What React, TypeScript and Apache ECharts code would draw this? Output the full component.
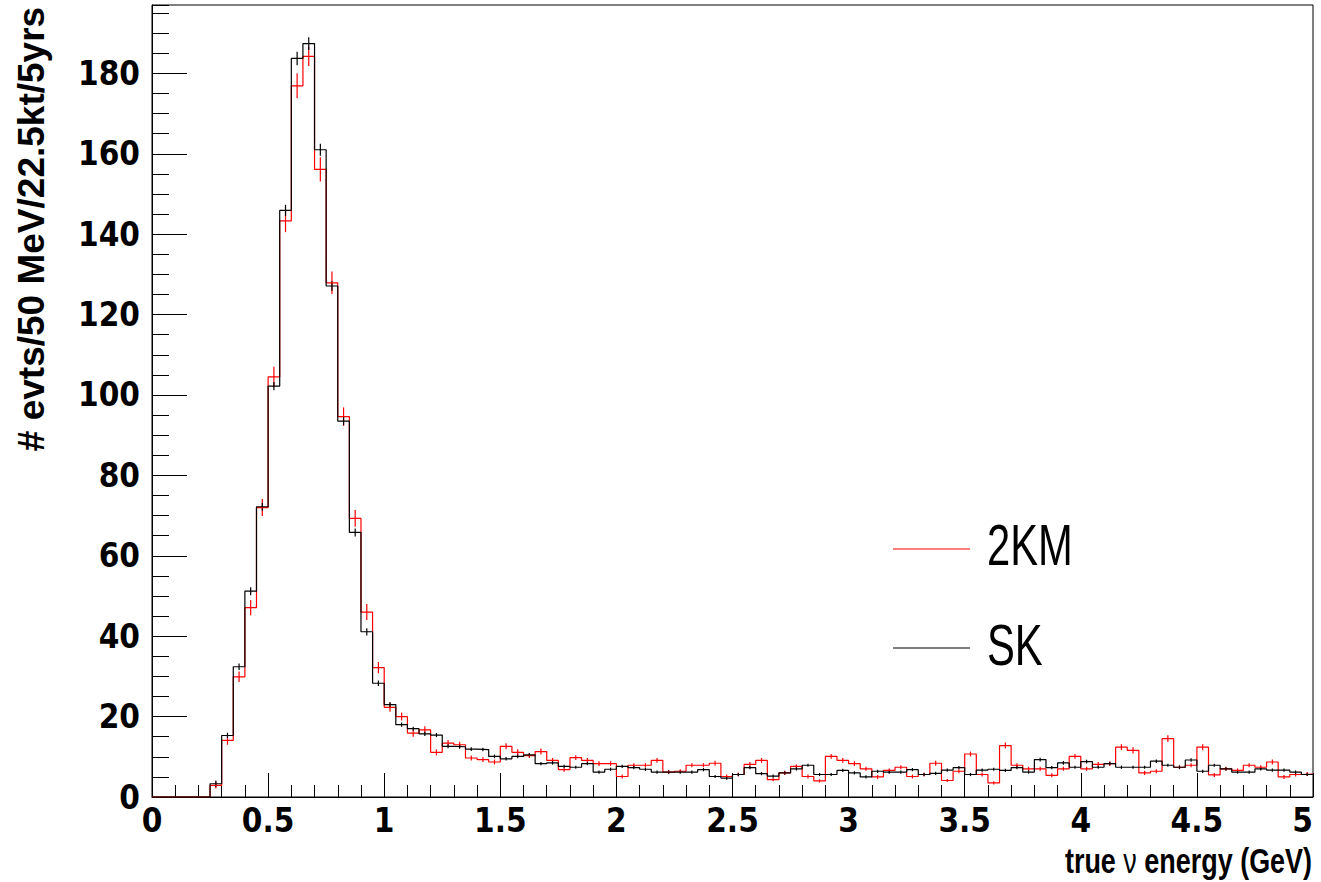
import React, { useEffect, useRef } from "react";
import * as echarts from "echarts";

// ---- data ----
const BIN_WIDTH = 0.05;
const N_BINS = 100;
const binLowEdges: number[] = Array.from({ length: N_BINS }, (_, i) => Math.round(i * BIN_WIDTH * 100) / 100);

const xTickValues = [0, 0.5, 1, 1.5, 2, 2.5, 3, 3.5, 4, 4.5, 5];
const yTickValues = [0, 20, 40, 60, 80, 100, 120, 140, 160, 180];

const seriesNames = ["2KM", "SK"];

const km2Values = [
  0, 0, 0, 0, 0, 2.9, 14.1, 29.9, 47.1, 72.0,
  104.5, 143.3, 176.9, 184.2, 156.1, 127.9, 94.6, 69.3, 46.0, 32.2,
  22.3, 20.0, 15.9, 16.7, 11.1, 13.4, 13.0, 9.7, 9.3, 8.7,
  12.6, 11.1, 10.3, 11.3, 9.1, 6.8, 9.8, 9.1, 8.3, 8.3,
  5.1, 7.9, 7.9, 9.1, 6.2, 6.4, 7.9, 7.9, 8.4, 5.1,
  5.6, 8.1, 9.1, 4.3, 6.0, 7.6, 5.1, 4.0, 10.1, 9.1,
  8.3, 7.0, 5.0, 6.6, 7.4, 5.1, 5.6, 8.4, 4.1, 6.4,
  10.7, 5.6, 3.5, 12.8, 7.9, 7.0, 7.0, 5.4, 7.0, 10.1,
  7.0, 8.1, 8.3, 12.4, 11.6, 6.0, 6.4, 14.5, 7.4, 7.9,
  12.4, 5.5, 7.0, 6.6, 7.9, 7.4, 8.7, 5.0, 5.6, 5.7,
];

const km2Errors = [
  0, 0, 0, 0, 0, 0.8, 1.1, 1.3, 1.9, 2.1,
  2.5, 2.8, 3.1, 2.4, 3.0, 2.8, 2.3, 2.1, 2.0, 1.4,
  1.1, 1.0, 0.9, 0.9, 0.75, 0.75, 0.75, 0.6, 0.6, 0.6,
  0.75, 0.75, 0.6, 0.75, 0.6, 0.5, 0.6, 0.6, 0.6, 0.6,
  0.5, 0.5, 0.5, 0.6, 0.5, 0.5, 0.5, 0.5, 0.6, 0.5,
  0.5, 0.6, 0.6, 0.4, 0.5, 0.5, 0.5, 0.4, 0.6, 0.6,
  0.6, 0.5, 0.5, 0.5, 0.5, 0.5, 0.5, 0.6, 0.4, 0.5,
  0.6, 0.5, 0.4, 0.75, 0.5, 0.5, 0.5, 0.5, 0.5, 0.6,
  0.5, 0.6, 0.6, 0.75, 0.75, 0.5, 0.5, 0.85, 0.5, 0.5,
  0.75, 0.5, 0.5, 0.5, 0.5, 0.5, 0.6, 0.5, 0.5, 0.5,
];

const skValues = [
  0, 0, 0, 0, 0, 3.3, 15.3, 32.4, 51.2, 72.2,
  102.2, 145.9, 183.7, 187.4, 161.0, 127.1, 93.5, 65.8, 41.1, 28.3,
  23.0, 18.0, 17.0, 15.7, 15.4, 12.6, 12.5, 11.9, 11.8, 10.1,
  9.5, 10.1, 10.5, 8.3, 8.5, 7.6, 7.4, 8.3, 6.2, 6.9,
  7.6, 7.3, 6.9, 6.2, 6.2, 6.2, 6.2, 6.8, 5.1, 4.7,
  5.6, 7.3, 5.8, 5.2, 6.0, 7.0, 7.9, 5.6, 5.6, 6.6,
  6.0, 5.0, 6.4, 6.2, 6.2, 6.8, 5.6, 5.9, 6.7, 7.3,
  5.6, 6.7, 6.9, 6.6, 7.3, 6.2, 9.3, 7.3, 8.5, 7.4,
  8.8, 7.4, 8.3, 7.4, 7.4, 7.4, 8.9, 7.9, 7.4, 9.2,
  6.4, 7.9, 7.0, 6.2, 6.2, 7.0, 6.7, 6.7, 6.2, 5.6,
];

const skErrors = [
  0, 0, 0, 0, 0, 0.8, 0.7, 0.8, 1.0, 1.0,
  1.0, 1.4, 1.7, 1.6, 1.5, 1.2, 1.0, 1.0, 0.9, 0.7,
  0.6, 0.5, 0.5, 0.5, 0.5, 0.5, 0.5, 0.45, 0.45, 0.45,
  0.45, 0.45, 0.45, 0.4, 0.45, 0.4, 0.4, 0.4, 0.4, 0.4,
  0.4, 0.4, 0.4, 0.4, 0.4, 0.4, 0.4, 0.4, 0.4, 0.4,
  0.4, 0.4, 0.4, 0.4, 0.4, 0.4, 0.4, 0.4, 0.4, 0.4,
  0.4, 0.4, 0.4, 0.4, 0.4, 0.4, 0.4, 0.4, 0.4, 0.4,
  0.4, 0.4, 0.4, 0.4, 0.4, 0.4, 0.45, 0.4, 0.45, 0.4,
  0.45, 0.4, 0.4, 0.4, 0.4, 0.4, 0.45, 0.4, 0.4, 0.45,
  0.4, 0.4, 0.4, 0.4, 0.4, 0.4, 0.4, 0.4, 0.4, 0.4,
];

const Y_MAX = 197;

// ---- helpers ----
function stepData(vals: number[]) {
  const d: number[][] = binLowEdges.map((x, i) => [x, vals[i]]);
  d.push([binLowEdges[N_BINS - 1] + BIN_WIDTH, vals[N_BINS - 1]]);
  return d;
}
function errData(vals: number[], errs: number[]) {
  return binLowEdges.map((x, i) => [x + BIN_WIDTH / 2, vals[i], errs[i]]);
}
function errSeries(name: string, vals: number[], errs: number[], color: string) {
  return {
    name,
    type: "custom",
    data: errData(vals, errs),
    encode: { x: 0, y: 1 },
    silent: true,
    renderItem: (_params: any, api: any) => {
      const e = api.value(2);
      if (!e) return { type: "group", children: [] };
      const x = api.value(0);
      const v = api.value(1);
      const p1 = api.coord([x, v - e]);
      const p2 = api.coord([x, v + e]);
      return {
        type: "line",
        shape: { x1: p1[0], y1: p1[1], x2: p2[0], y2: p2[1] },
        style: { stroke: color, lineWidth: 1.2 },
      };
    },
  };
}

const TICK_FONT = "'Liberation Sans Narrow', 'DejaVu Sans Condensed', 'Liberation Sans', Arial, sans-serif";

export default function App() {
  const ref = useRef<HTMLDivElement>(null);
  useEffect(() => {
    if (!ref.current) return;
    const chart = echarts.init(ref.current, null, { renderer: "svg" });
    const labelStyle = { color: "#000", fontFamily: TICK_FONT, fontWeight: "bold" as const, fontSize: 33, lineHeight: 24 };
    chart.setOption({
      animation: false,
      backgroundColor: "#fff",
      grid: {
        left: 152, right: 8, top: 5, bottom: 85,
        show: true, borderColor: "#000", borderWidth: 1,
        containLabel: false, outerBoundsMode: "none",
      },
      xAxis: {
        type: "value", min: 0, max: 5, interval: 0.5,
        axisLine: { show: true, lineStyle: { color: "#000", width: 1 } },
        axisTick: { show: true, inside: true, length: 24, lineStyle: { color: "#000", width: 1 } },
        minorTick: { show: true, splitNumber: 5, length: 12, lineStyle: { color: "#000", width: 1 } },
        splitLine: { show: false },
        axisLabel: {
          ...labelStyle, margin: 11, alignMaxLabel: "right",
          formatter: (v: number) => (xTickValues.includes(v) ? String(v) : ""),
        },
      },
      yAxis: [
        {
          type: "value", min: 0, max: Y_MAX, interval: 20, position: "left",
          axisLine: { show: true, lineStyle: { color: "#000", width: 1 } },
          axisTick: { show: true, inside: true, length: 35, lineStyle: { color: "#000", width: 1 } },
          splitLine: { show: false },
          axisLabel: {
            ...labelStyle, margin: 12, showMaxLabel: false,
            formatter: (v: number) => (yTickValues.includes(v) ? String(v) : ""),
          },
        },
        {
          type: "value", min: 0, max: Y_MAX, interval: 5, position: "left", offset: 0,
          axisLine: { show: false },
          axisTick: { show: true, inside: true, length: 17, lineStyle: { color: "#000", width: 1 } },
          splitLine: { show: false },
          axisLabel: { show: false },
        },
      ],
      series: [
        {
          name: seriesNames[0], type: "line", step: "end", data: stepData(km2Values),
          showSymbol: false, symbol: "none", lineStyle: { color: "#ff0000", width: 1.2 }, silent: true,
        },
        errSeries(seriesNames[0], km2Values, km2Errors, "#ff0000"),
        {
          name: seriesNames[1], type: "line", step: "end", data: stepData(skValues),
          showSymbol: false, symbol: "none", lineStyle: { color: "#000000", width: 1.2 }, silent: true,
        },
        errSeries(seriesNames[1], skValues, skErrors, "#000000"),
      ],
      graphic: [
        {
          type: "text", x: 31, y: 229, rotation: Math.PI / 2,
          style: {
            text: "# evts/50 MeV/22.5kt/5yrs", fill: "#000",
            font: "bold 37px 'Liberation Sans', Arial, sans-serif",
            textAlign: "center", textVerticalAlign: "middle",
          },
        },
        {
          type: "text", x: 1312, y: 861, scaleX: 0.77,
          style: {
            text: "{b|true }{n|ν}{b| energy (GeV)}", fill: "#000",
            textAlign: "right", textVerticalAlign: "middle",
            rich: {
              b: { font: "bold 35px 'Liberation Sans', Arial, sans-serif", fill: "#000" },
              n: { font: "35px 'Liberation Sans', Arial, sans-serif", fill: "#000" },
            },
          },
        },
        { type: "line", shape: { x1: 893, y1: 549, x2: 970, y2: 549 }, style: { stroke: "#ff0000", lineWidth: 1.2 } },
        {
          type: "text", x: 987, y: 545, scaleX: 0.72,
          style: { text: seriesNames[0], fill: "#000", font: "58px 'Liberation Sans', Arial, sans-serif", textAlign: "left", textVerticalAlign: "middle" },
        },
        { type: "line", shape: { x1: 893, y1: 648, x2: 970, y2: 648 }, style: { stroke: "#000", lineWidth: 1.2 } },
        {
          type: "text", x: 987, y: 645, scaleX: 0.72,
          style: { text: seriesNames[1], fill: "#000", font: "58px 'Liberation Sans', Arial, sans-serif", textAlign: "left", textVerticalAlign: "middle" },
        },
      ],
    });
    return () => chart.dispose();
  }, []);
  return <div ref={ref} style={{ position: "absolute", left: 0, top: 0, width: 1321, height: 882, background: "#fff" }} />;
}
